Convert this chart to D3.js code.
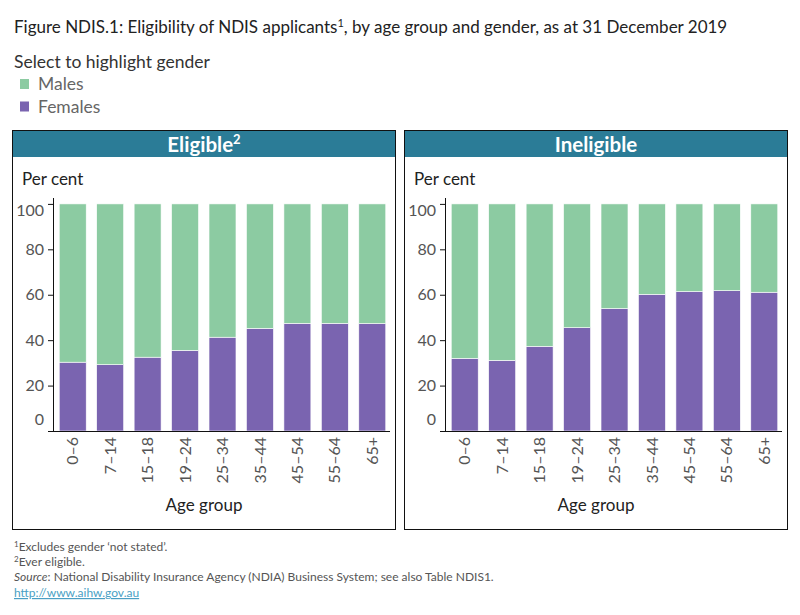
<!DOCTYPE html>
<html><head><meta charset="utf-8">
<script src="https://cdn.jsdelivr.net/npm/d3@7"></script>
<style>
body{margin:0;background:#fff;}
svg{display:block;font-family:Lato, "Noto Sans", sans-serif;}
</style></head>
<body>
<svg id="c" width="800" height="615"></svg>
<script>
const ageGroups = ["0–6","7–14","15–18","19–24","25–34","35–44","45–54","55–64","65+"];
const panels = ["Eligible", "Ineligible"];
const eligibleFemales = [30.3, 29.2, 32.5, 35.5, 41.3, 45.2, 47.4, 47.4, 47.3];
const ineligibleFemales = [32.0, 31.1, 37.3, 45.5, 53.9, 60.2, 61.4, 61.8, 61.1];
const eligibleMales = eligibleFemales.map(v => +(100 - v).toFixed(1));
const ineligibleMales = ineligibleFemales.map(v => +(100 - v).toFixed(1));
const yTicks = [0, 20, 40, 60, 80, 100];
const genders = ["Males", "Females"];
const colors = {Males: "#8ccba2", Females: "#7a64b0"};

const svg = d3.select("#c");

// Title
const title = svg.append("text").attr("x", 14).attr("y", 33).attr("font-size", 17).attr("fill", "#222");
title.append("tspan").text("Figure NDIS.1: Eligibility of NDIS applicants");
title.append("tspan").attr("font-size", 11).attr("dy", -6).text("1");
title.append("tspan").attr("dy", 6).text(", by age group and gender, as at 31 December 2019");

svg.append("text").attr("x", 14).attr("y", 68).attr("font-size", 17.5).attr("fill", "#333")
  .text("Select to highlight gender");

const leg = svg.append("g");
genders.forEach((g, i) => {
  leg.append("rect").attr("x", 20).attr("y", 79 + i * 22.5).attr("width", 9).attr("height", 10).attr("fill", colors[g]);
  leg.append("text").attr("x", 38).attr("y", 90 + i * 22.5).attr("font-size", 17.5).attr("fill", "#666").text(g);
});

const data = [
  {name: "Eligible", sup: "2", f: eligibleFemales, m: eligibleMales},
  {name: "Ineligible", sup: "", f: ineligibleFemales, m: ineligibleMales}
];

const y = d3.scaleLinear().domain([0, 102.6]).range([431, 198]);

data.forEach((p, pi) => {
  const ox = pi * 392;
  const g = svg.append("g").attr("transform", `translate(${ox},0)`);
  g.append("rect").attr("x", 12.5).attr("y", 130.5).attr("width", 383).attr("height", 399)
    .attr("fill", "#fff").attr("stroke", "#111").attr("stroke-width", 1);
  g.append("rect").attr("x", 13).attr("y", 131).attr("width", 382).attr("height", 26).attr("fill", "#2b7c97");
  const ht = g.append("text").attr("x", 204).attr("y", 152).attr("text-anchor", "middle")
    .attr("font-size", 20.5).attr("font-weight", "bold").attr("fill", "#fff");
  ht.append("tspan").text(p.name);
  if (p.sup) ht.append("tspan").attr("font-size", 13).attr("dy", -8).text(p.sup);

  g.append("text").attr("x", 22).attr("y", 185).attr("font-size", 17).attr("fill", "#222").text("Per cent");

  const x = d3.scaleBand().domain(ageGroups).range([54, 391]).paddingInner(0.28).paddingOuter(0.14);

  const stackData = ageGroups.map((a, i) => ({age: a, Females: p.f[i], Males: p.m[i]}));
  const series = d3.stack().keys(["Females", "Males"])(stackData);
  g.selectAll("g.s").data(series).join("g").attr("class", "s").attr("fill", d => colors[d.key])
    .selectAll("rect").data(d => d).join("rect")
    .attr("x", d => x(d.data.age))
    .attr("width", x.bandwidth())
    .attr("y", d => y(d[1]))
    .attr("height", d => y(d[0]) - y(d[1]))
    .attr("stroke", "#fff").attr("stroke-width", 0.6);

  const ya = g.append("g").attr("transform", "translate(53,0)")
    .call(d3.axisLeft(y).tickValues(yTicks).tickSize(5).tickPadding(4));
  ya.select(".domain").attr("stroke", "#111").attr("d", "M0.5,198V431");
  ya.selectAll(".tick line").attr("stroke", "#111");
  ya.selectAll(".tick text").attr("font-size", 16).attr("fill", "#555").attr("font-family", "Lato, sans-serif")
    .attr("dy", d => d === 0 ? "-0.4em" : d === 100 ? "0.75em" : "0.32em");
  ya.selectAll(".tick").filter(d => d === 0).select("line").remove();

  const xa = g.append("g").attr("transform", "translate(0,431)")
    .call(d3.axisBottom(x).tickSize(0).tickPadding(6));
  xa.select(".domain").attr("stroke", "#111").attr("d", "M48,0.5H390");
  xa.selectAll(".tick text").attr("font-size", 16).attr("fill", "#555").attr("font-family", "Lato, sans-serif")
    .attr("text-anchor", "end").attr("transform", "rotate(-90)").attr("x", -6).attr("y", 0).attr("dy", "0.35em");

  g.append("text").attr("x", 204).attr("y", 511).attr("text-anchor", "middle").attr("font-size", 17)
    .attr("fill", "#222").text("Age group");
});

// Footnotes
const fn = svg.append("g").attr("font-size", 12).attr("fill", "#555");
const t1 = fn.append("text").attr("x", 14).attr("y", 551);
t1.append("tspan").attr("font-size", 8).attr("dy", -4).text("1");
t1.append("tspan").attr("dy", 4).text("Excludes gender ‘not stated’.");
const t2 = fn.append("text").attr("x", 14).attr("y", 566);
t2.append("tspan").attr("font-size", 8).attr("dy", -4).text("2");
t2.append("tspan").attr("dy", 4).text("Ever eligible.");
const t3 = fn.append("text").attr("x", 14).attr("y", 581);
t3.append("tspan").attr("font-style", "italic").text("Source");
t3.append("tspan").text(": National Disability Insurance Agency (NDIA) Business System; see also Table NDIS1.");
fn.append("text").attr("x", 14).attr("y", 597).attr("fill", "#4a9fc4").attr("text-decoration", "underline")
  .text("http://www.aihw.gov.au");
</script>
</body></html>
